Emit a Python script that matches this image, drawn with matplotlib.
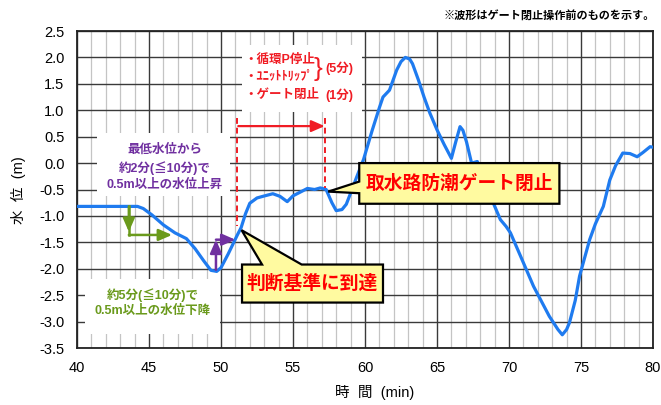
import matplotlib
matplotlib.use("Agg")
import matplotlib.pyplot as plt
from matplotlib.patches import Polygon, Rectangle
from matplotlib.ticker import MultipleLocator

plt.rcParams["font.family"] = ["Liberation Sans", "Noto Sans CJK JP", "DejaVu Sans"]
plt.rcParams["axes.unicode_minus"] = False

# water level trace (min, m)
time_min = [40, 44.2, 44.6, 45.2, 46.0, 46.8, 47.6, 48.2, 48.8, 49.3, 49.7, 50.0, 50.5,
            51.1, 51.4, 51.7, 52.0, 52.5, 52.9, 53.6, 54.1, 54.6, 55.0, 55.5, 56.0, 56.5,
            56.9, 57.3, 57.7, 58.0, 58.4, 58.7, 59.1, 59.4, 59.9, 60.5, 61.0, 61.25,
            61.7, 62.2, 62.5, 62.8, 63.1, 63.3, 63.7, 64.1, 64.5, 65.0, 65.5, 66.0,
            66.3, 66.6, 66.8, 67.05, 67.4, 67.8, 68.0, 68.5, 68.9, 69.4, 69.8, 70.1,
            70.8, 71.7, 72.8, 73.4, 73.7, 74.0, 74.2, 74.6, 74.9, 75.6, 76.0, 76.55,
            77.0, 77.4, 77.9, 78.4, 78.9, 79.3, 79.8, 80.0]
water_level = [-0.82, -0.82, -0.86, -0.98, -1.17, -1.32, -1.43, -1.62, -1.85, -2.03, -2.05,
               -1.98, -1.72, -1.38, -1.22, -0.96, -0.76, -0.66, -0.63, -0.58, -0.63, -0.73,
               -0.62, -0.55, -0.48, -0.50, -0.47, -0.50, -0.75, -0.90, -0.88, -0.78, -0.50,
               -0.28, 0.07, 0.62, 1.05, 1.25, 1.38, 1.76, 1.92, 2.0, 1.97, 1.88, 1.58, 1.25,
               0.95, 0.63, 0.35, 0.09, 0.40, 0.69, 0.62, 0.40, 0.0, 0.03, -0.10, -0.45,
               -0.75, -1.07, -1.20, -1.32, -1.76, -2.33, -2.90, -3.15, -3.25, -3.15, -3.02,
               -2.60, -2.14, -1.45, -1.15, -0.82, -0.32, -0.05, 0.19, 0.18, 0.12, 0.20, 0.31,
               0.30]

x_ticks = [40, 45, 50, 55, 60, 65, 70, 75, 80]
y_ticks = [-3.5, -3.0, -2.5, -2.0, -1.5, -1.0, -0.5, 0.0, 0.5, 1.0, 1.5, 2.0, 2.5]

RED = "#f01c24"
PURPLE = "#7030a0"
GREEN = "#6a9a1c"
BLUE = "#1f7bef"
YELLOW = "#fffaa0"

fig = plt.figure(figsize=(6.61, 4.05), dpi=100)
ax = fig.add_axes([77 / 661, 57 / 405, 576 / 661, 317 / 405])

ax.set_xlim(40, 80)
ax.set_ylim(-3.5, 2.5)
ax.set_xticks(x_ticks)
ax.set_yticks(y_ticks)
ax.set_yticklabels([f"{v:.1f}" for v in y_ticks])
ax.xaxis.set_minor_locator(MultipleLocator(1))
ax.tick_params(which="both", length=0, labelsize=10.5, pad=9)
ax.grid(which="major", color="#3a3a3a", linewidth=1.0)
ax.grid(which="minor", axis="x", color="#c4c4c4", linewidth=0.9)
ax.set_axisbelow(True)
for s in ax.spines.values():
    s.set_linewidth(1.3)
    s.set_color("#222222")

# white patches behind the notes
for (x0, y0, w, h) in [(51.46, 0.97, 8.33, 1.26), (41.39, -0.62, 9.24, 1.19),
                       (40.56, -3.24, 9.37, 1.04)]:
    ax.add_patch(Rectangle((x0, y0), w, h, facecolor="white", edgecolor="none", zorder=1))

ax.plot(time_min, water_level, color=BLUE, linewidth=2.3, zorder=3, solid_capstyle="round")

# red timing markers
ax.plot([51.1, 51.1], [0.85, -1.2], color=RED, linestyle=(0, (3, 2)), linewidth=1.4, zorder=3)
ax.plot([57.2, 57.2], [0.85, -0.47], color=RED, linestyle=(0, (3, 2)), linewidth=1.4, zorder=3)
ax.annotate("", xy=(57.2, 0.70), xytext=(51.2, 0.70),
            arrowprops=dict(arrowstyle="-|>,head_length=0.8,head_width=0.35", color=RED,
                            lw=1.6, shrinkA=0, shrinkB=0), zorder=3)

tk = dict(color=RED, fontsize=9, fontweight="bold", va="center", ha="left", zorder=5)
ax.text(51.6, 1.95, "・循環P停止", **tk)
ax.text(51.6, 1.63, "・ﾕﾆｯﾄﾄﾘｯﾌﾟ", **tk)
ax.text(51.6, 1.29, "・ゲート閉止", **tk)
ax.text(56.45, 1.79, "}", color=RED, fontsize=19, va="center", ha="left", zorder=5,
        fontweight="light")
ax.text(57.25, 1.80, "(5分)", **tk)
ax.text(57.25, 1.29, "(1分)", **tk)

# green: fall
ax.plot([43.6, 43.6], [-0.82, -1.36], color=GREEN, linewidth=1.8, zorder=3)
ax.annotate("", xy=(43.6, -1.30), xytext=(43.6, -0.82),
            arrowprops=dict(arrowstyle="-|>,head_length=0.8,head_width=0.35", color=GREEN,
                            lw=1.8, shrinkA=0, shrinkB=0), zorder=3)
ax.annotate("", xy=(46.6, -1.36), xytext=(43.6, -1.36),
            arrowprops=dict(arrowstyle="-|>,head_length=0.8,head_width=0.35", color=GREEN,
                            lw=1.8, shrinkA=0, shrinkB=0), zorder=3)
gk = dict(color=GREEN, fontsize=9, fontweight="bold", va="center", ha="center", zorder=5)
ax.text(45.24, -2.49, "約5分(≦10分)で", **gk)
ax.text(45.24, -2.79, "0.5m以上の水位下降", **gk)

# purple: rise
ax.annotate("", xy=(49.65, -1.45), xytext=(49.65, -2.02),
            arrowprops=dict(arrowstyle="-|>,head_length=0.8,head_width=0.35", color=PURPLE,
                            lw=1.8, shrinkA=0, shrinkB=0), zorder=3)
ax.annotate("", xy=(51.0, -1.45), xytext=(49.65, -1.45),
            arrowprops=dict(arrowstyle="-|>,head_length=0.8,head_width=0.35", color=PURPLE,
                            lw=1.8, shrinkA=0, shrinkB=0), zorder=3)
pk = dict(color=PURPLE, fontsize=9, fontweight="bold", va="center", ha="center", zorder=5)
ax.text(46.1, 0.25, "最低水位から", **pk)
ax.text(46.1, -0.09, "約2分(≦10分)で", **pk)
ax.text(46.1, -0.41, "0.5m以上の水位上昇", **pk)

# callouts
call1 = [(51.46, -1.92), (52.85, -1.92), (51.43, -1.27), (55.6, -1.92), (61.25, -1.92),
         (61.25, -2.64), (51.46, -2.64)]
call2 = [(59.6, 0.0), (73.5, 0.0), (73.5, -0.77), (59.6, -0.77), (59.6, -0.57),
         (57.45, -0.54), (59.6, -0.35)]
for pts in (call1, call2):
    ax.add_patch(Polygon(pts, closed=True, facecolor=YELLOW, edgecolor="black",
                         linewidth=1.6, zorder=4, joinstyle="miter"))
ax.text(56.35, -2.29, "判断基準に到達", color="#ff0000", fontsize=13.5, fontweight="bold",
        ha="center", va="center", zorder=5)
ax.text(66.55, -0.39, "取水路防潮ゲート閉止", color="#ff0000", fontsize=13.5,
        fontweight="bold", ha="center", va="center", zorder=5)

fig.text(18 / 661, 1 - 190 / 405, "水  位  (m)", rotation=90, ha="center", va="center",
         fontsize=10.5)
fig.text(375 / 661, 1 - 393 / 405, "時  間  (min)", ha="center", va="center", fontsize=10.5)
fig.text(655 / 661, 1 - 16 / 405, "※波形はゲート閉止操作前のものを示す。", ha="right",
         va="center", fontsize=8, fontweight="bold")

fig.savefig("out.png", dpi=100)
